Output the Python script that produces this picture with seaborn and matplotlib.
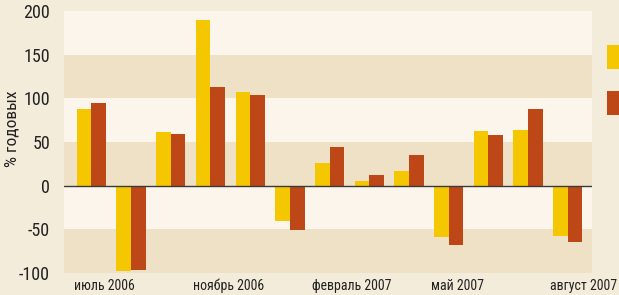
import numpy as np
import pandas as pd
import matplotlib
matplotlib.use("Agg")
import matplotlib.pyplot as plt
import matplotlib.patches as mpatches
import matplotlib.transforms as mtransforms
from matplotlib import font_manager
import seaborn as sns

# monthly values, % годовых
months = ["июль 2006", "авг 2006", "сен 2006", "ноябрь 2006", "дек 2006", "янв 2007",
          "февраль 2007", "мар 2007", "апр 2007", "май 2007", "июн 2007", "июл 2007",
          "август 2007"]
series_a = [88, -98, 62, 190, 107, -41, 26, 5, 17, -59, 63, 64, -58]
series_b = [95, -96, 59, 113, 104, -51, 44, 12, 35, -68, 58, 88, -64]
series_names = ["ряд 1", "ряд 2"]
tick_idx = [0, 3, 6, 9, 12]
tick_labels = ["июль 2006", "ноябрь 2006", "февраль 2007", "май 2007", "август 2007"]
y_ticks = [-100, -50, 0, 50, 100, 150, 200]

yellow = "#f5c700"
brown = "#be4718"
outer_bg = "#f4ecdb"
light_band = "#fcf5ec"
dark_band = "#eee1c6"

df = pd.DataFrame({
    "month": months * 2,
    "value": series_a + series_b,
    "series": [series_names[0]] * len(months) + [series_names[1]] * len(months),
})

sns.set_theme(style="white")
# pick a narrow font if one is around
installed = {f.name for f in font_manager.fontManager.ttflist}
narrow = [f for f in ["Liberation Sans Narrow", "DejaVu Sans Condensed", "Roboto Condensed",
                      "Liberation Sans"] if f in installed]
plt.rcParams["font.family"] = narrow + ["DejaVu Sans"]

fig = plt.figure(figsize=(6.19, 2.95), dpi=100, facecolor=outer_bg)
ax = fig.add_axes([64 / 619, 1 - 273 / 295, (592 - 64) / 619, (273 - 11) / 295])
ax.set_facecolor(light_band)

# alternating horizontal bands
for lo in (-100, 0, 100):
    ax.axhspan(lo, lo + 50, color=dark_band, lw=0, zorder=0)

sns.barplot(data=df, x="month", y="value", hue="series", order=months,
            palette=[yellow, brown], width=0.74, saturation=1, ax=ax,
            legend=False, linewidth=0, zorder=2)

ax.axhline(0, color="#3a3a3a", lw=1, zorder=3)
ax.set_ylim(-100, 200)
ax.set_xlim(-0.69, 12.61)
ax.set_yticks(y_ticks)
ax.set_yticklabels([str(v) for v in y_ticks], fontsize=13, color="#222222")
ax.tick_params(axis="y", length=0, pad=10)

ax.set_xticks([i - 0.37 for i in tick_idx])
ax.set_xticklabels(tick_labels, fontsize=10, ha="left", color="#222222")
ax.tick_params(axis="x", direction="in", length=5, width=0.7, color="#666666", pad=4)
ax.xaxis.get_major_ticks()[0].tick1line.set_visible(False)
shift = mtransforms.ScaledTranslation(-3 / 100, 0, fig.dpi_scale_trans)
for lbl in ax.get_xticklabels():
    lbl.set_transform(lbl.get_transform() + shift)

ax.set_xlabel("")
ax.set_ylabel("% годовых", fontsize=12.5, color="#222222")
ax.yaxis.set_label_coords(-0.085, 0.55)
for s in ax.spines.values():
    s.set_visible(False)

handles = [mpatches.Patch(color=yellow, lw=0), mpatches.Patch(color=brown, lw=0)]
fig.legend(handles, ["", ""], loc="upper left", bbox_to_anchor=(607 / 619, 1 - 45 / 295),
           frameon=False, handlelength=1.6, handleheight=2.25, labelspacing=1.6,
           borderpad=0, borderaxespad=0, handletextpad=0.3, fontsize=10)

fig.savefig("out.png", dpi=100, facecolor=outer_bg)
